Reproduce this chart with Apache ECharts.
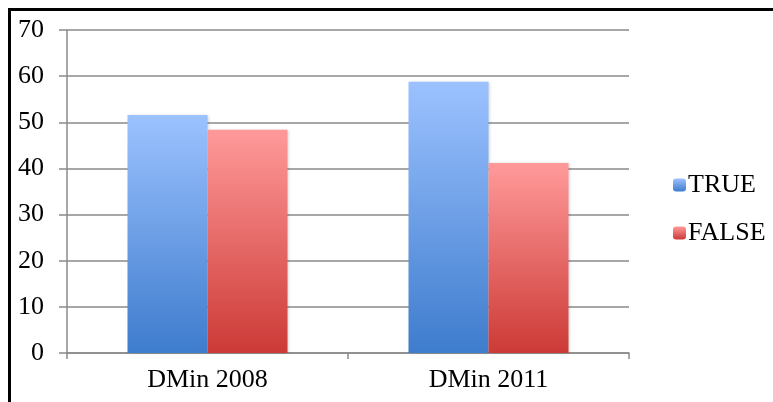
<!DOCTYPE html>
<html>
<head>
<meta charset="utf-8">
<script src="https://cdn.jsdelivr.net/npm/echarts@6/dist/echarts.min.js"></script>
<style>
  html, body { margin: 0; padding: 0; background: #fff; }
  #main { width: 773px; height: 402px; }
</style>
</head>
<body>
<div id="main"></div>
<script>
// data
var categories = ['DMin 2008', 'DMin 2011'];
var trueValues = [51.6, 58.8];
var falseValues = [48.4, 41.2];
var yTicks = { min: 0, max: 70, interval: 10 };

var font = 'Liberation Serif';
var gridColor = '#8a8a8a';

function grad(top, bottom) {
  return new echarts.graphic.LinearGradient(0, 0, 0, 1, [
    { offset: 0, color: top },
    { offset: 1, color: bottom }
  ]);
}

var myChart = echarts.init(document.getElementById('main'));
myChart.setOption({
  animation: false,
  backgroundColor: '#fff',
  graphic: [{
    type: 'rect',
    shape: { x: 9.5, y: 9.5, width: 900, height: 600 },
    style: { fill: 'none', stroke: '#000', lineWidth: 3 },
    silent: true
  }],
  grid: { left: 67, right: 144, top: 30, bottom: 49 },
  legend: {
    orient: 'vertical',
    left: 668,
    top: 167,
    itemWidth: 13,
    itemHeight: 13,
    itemGap: 22,
    textStyle: { fontFamily: font, fontSize: 26, color: '#000', padding: [0, 0, 0, -3] },
    data: ['TRUE', 'FALSE']
  },
  xAxis: {
    type: 'category',
    data: categories,
    axisLine: { lineStyle: { color: gridColor, width: 1.5 } },
    axisTick: { show: true, length: 6, lineStyle: { color: gridColor, width: 1.5 } },
    axisLabel: { fontFamily: font, fontSize: 26, color: '#000', margin: 14 }
  },
  yAxis: {
    type: 'value',
    min: yTicks.min,
    max: yTicks.max,
    interval: yTicks.interval,
    axisLine: { show: true, lineStyle: { color: gridColor, width: 1.5 } },
    axisTick: { show: true, length: 8, lineStyle: { color: gridColor, width: 1.5 } },
    axisLabel: { fontFamily: font, fontSize: 26, color: '#000', margin: 23 },
    splitLine: { lineStyle: { color: gridColor, width: 1.5 } }
  },
  series: [{
    name: 'TRUE',
    type: 'bar',
    data: trueValues,
    barWidth: 80,
    barGap: '0%',
    itemStyle: {
      color: grad('#9cc2ff', '#3e7ccd'),
      shadowColor: 'rgba(0,0,0,0.18)', shadowBlur: 3, shadowOffsetX: 1
    }
  }, {
    name: 'FALSE',
    type: 'bar',
    data: falseValues,
    barWidth: 80,
    barGap: '0%',
    itemStyle: {
      color: grad('#ff9a9a', '#cc3a36'),
      shadowColor: 'rgba(0,0,0,0.18)', shadowBlur: 3, shadowOffsetX: 1
    }
  }]
});
</script>
</body>
</html>
